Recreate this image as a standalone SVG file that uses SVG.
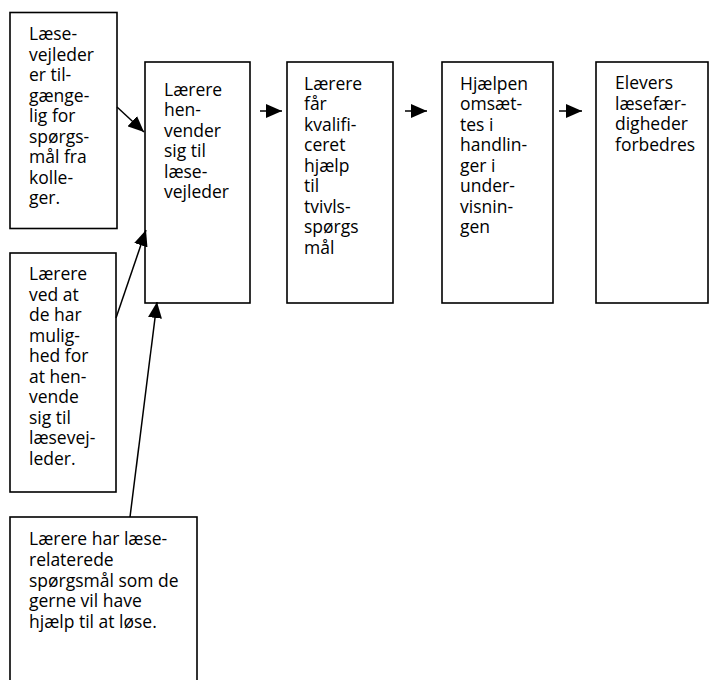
<svg xmlns="http://www.w3.org/2000/svg" width="710" height="680" viewBox="0 0 710 680">
<defs>
<marker id="ahL" viewBox="0 0 10 10" refX="10" refY="5" markerWidth="16" markerHeight="14" markerUnits="userSpaceOnUse" orient="auto" preserveAspectRatio="none">
<path d="M0,0 L10,5 L0,10 z" fill="#000"/>
</marker>
<style>
rect{fill:#fff;stroke:#000;stroke-width:1.6}
text{font-family:"Open Sans","Noto Sans","DejaVu Sans",sans-serif;font-size:17.5px;fill:#000}
.c line{stroke:#000;stroke-width:1.5;marker-end:url(#ahL)}
</style>
</defs>
<rect x="0" y="0" width="710" height="680" style="fill:#fff;stroke:none"/>
<g id="nodeA"><rect x="10" y="12.5" width="107" height="216"/>
<text x="29" y="40"><tspan x="29">Læse-</tspan><tspan x="29" dy="20.5">vejleder</tspan><tspan x="29" dy="20.5">er til-</tspan><tspan x="29" dy="20.5">gænge-</tspan><tspan x="29" dy="20.5">lig for</tspan><tspan x="29" dy="20.5">spørgs-</tspan><tspan x="29" dy="20.5">mål fra</tspan><tspan x="29" dy="20.5">kolle-</tspan><tspan x="29" dy="20.5">ger.</tspan></text></g>
<g id="nodeB"><rect x="145" y="62" width="105" height="241"/>
<text x="164" y="95.5"><tspan x="164">Lærere</tspan><tspan x="164" dy="20.5">hen-</tspan><tspan x="164" dy="20.5">vender</tspan><tspan x="164" dy="20.5">sig til</tspan><tspan x="164" dy="20.5">læse-</tspan><tspan x="164" dy="20.5">vejleder</tspan></text></g>
<g id="nodeC"><rect x="10" y="253" width="106" height="239"/>
<text x="29" y="280"><tspan x="29">Lærere</tspan><tspan x="29" dy="20.5">ved at</tspan><tspan x="29" dy="20.5">de har</tspan><tspan x="29" dy="20.5">mulig-</tspan><tspan x="29" dy="20.5">hed for</tspan><tspan x="29" dy="20.5">at hen-</tspan><tspan x="29" dy="20.5">vende</tspan><tspan x="29" dy="20.5">sig til</tspan><tspan x="29" dy="20.5">læsevej-</tspan><tspan x="29" dy="20.5">leder.</tspan></text></g>
<g id="nodeD"><rect x="10" y="517" width="187" height="180"/>
<text x="29" y="545"><tspan x="29">Lærere har læse-</tspan><tspan x="29" dy="20.8">relaterede</tspan><tspan x="29" dy="20.8">spørgsmål som de</tspan><tspan x="29" dy="20.8">gerne vil have</tspan><tspan x="29" dy="20.8">hjælp til at løse.</tspan></text></g>
<g id="nodeE"><rect x="287" y="62" width="106" height="241"/>
<text x="304" y="89.5"><tspan x="304">Lærere</tspan><tspan x="304" dy="20.5">får</tspan><tspan x="304" dy="20.5">kvalifi-</tspan><tspan x="304" dy="20.5">ceret</tspan><tspan x="304" dy="20.5">hjælp</tspan><tspan x="304" dy="20.5">til</tspan><tspan x="304" dy="20.5">tvivls-</tspan><tspan x="304" dy="20.5">spørgs</tspan><tspan x="304" dy="20.5">mål</tspan></text></g>
<g id="nodeF"><rect x="442" y="62" width="111" height="241"/>
<text x="460" y="89.5"><tspan x="460">Hjælpen</tspan><tspan x="460" dy="20.5">omsæt-</tspan><tspan x="460" dy="20.5">tes i</tspan><tspan x="460" dy="20.5">handlin-</tspan><tspan x="460" dy="20.5">ger i</tspan><tspan x="460" dy="20.5">under-</tspan><tspan x="460" dy="20.5">visnin-</tspan><tspan x="460" dy="20.5">gen</tspan></text></g>
<g id="nodeG"><rect x="596" y="62" width="112" height="241"/>
<text x="615" y="89"><tspan x="615">Elevers</tspan><tspan x="615" dy="20.5">læsefær-</tspan><tspan x="615" dy="20.5">digheder</tspan><tspan x="615" dy="20.5">forbedres</tspan></text></g>
<g id="connectors" class="c">
<line x1="260" y1="111" x2="282" y2="111"/>
<line x1="405" y1="111" x2="427" y2="111"/>
<line x1="559" y1="111" x2="582" y2="111"/>
<line x1="117" y1="107" x2="144" y2="132"/>
<line x1="116" y1="318" x2="146" y2="230"/>
<line x1="130" y1="517" x2="157" y2="302"/>
</g>
</svg>
